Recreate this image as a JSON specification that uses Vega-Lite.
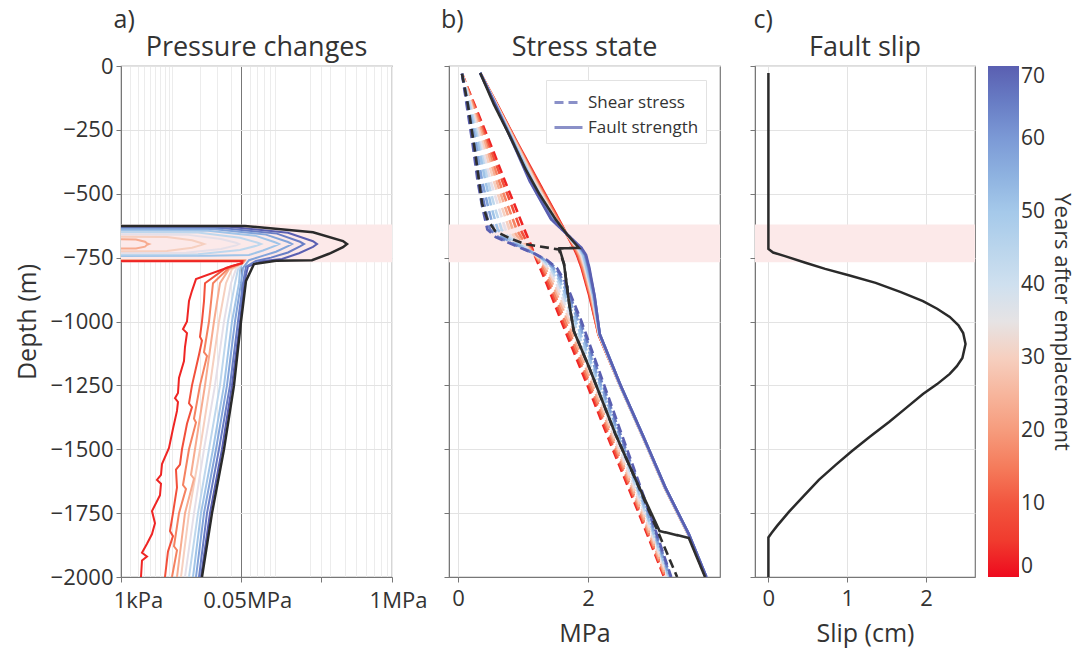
{
"$schema": "https://vega.github.io/schema/vega-lite/v6.json",
"padding": {"left": 14, "top": 7, "right": 5, "bottom": 5},
"background": "white",
"config": {
  "font": "Open Sans",
  "view": {"stroke": "#777", "strokeWidth": 1.2},
  "axis": {"labelFont": "Open Sans", "labelFontSize": 22, "labelColor": "#333", "titleFont": "Open Sans", "titleFontSize": 25, "titleColor": "#333", "titleFontWeight": "normal", "domainColor": "#777", "tickColor": "#777", "gridColor": "#e3e3e3", "tickSize": 5},
  "title": {"font": "Open Sans", "fontSize": 27, "color": "#333", "fontWeight": "normal"},
  "legend": {"labelFont": "Open Sans", "labelFontSize": 21, "labelColor": "#333", "titleFont": "Open Sans", "titleFontSize": 22, "titleColor": "#333", "titleFontWeight": "normal", "gradientLength": 511, "gradientThickness": 31, "gradientStrokeWidth": 0}
},
"datasets": {
"band": [{"depth": -620, "depth2": -768}],
"pa": [
{"yr":70,"depth":-627,"p":300},{"yr":70,"depth":-629,"p":38545},{"yr":70,"depth":-653,"p":129903},{"yr":70,"depth":-686,"p":213452},{"yr":70,"depth":-697,"p":230966},{"yr":70,"depth":-708,"p":213452},{"yr":70,"depth":-733,"p":161770},{"yr":70,"depth":-755,"p":115197},{"yr":70,"depth":-764,"p":75286},{"yr":70,"depth":-785,"p":57577},{"yr":70,"depth":-850,"p":52967},{"yr":70,"depth":-1000,"p":48707},{"yr":70,"depth":-1250,"p":41100},{"yr":70,"depth":-1500,"p":33117},{"yr":70,"depth":-1750,"p":25361},{"yr":70,"depth":-2000,"p":20619},
{"yr":65,"depth":-633,"p":300},{"yr":65,"depth":-634,"p":33117},{"yr":65,"depth":-656,"p":104150},{"yr":65,"depth":-688,"p":164990},{"yr":65,"depth":-697,"p":178639},{"yr":65,"depth":-706,"p":164990},{"yr":65,"depth":-730,"p":129903},{"yr":65,"depth":-750,"p":92275},{"yr":65,"depth":-763,"p":67930},{"yr":65,"depth":-785,"p":55233},{"yr":65,"depth":-850,"p":51871},{"yr":65,"depth":-1000,"p":46690},{"yr":65,"depth":-1250,"p":39377},{"yr":65,"depth":-1500,"p":31006},{"yr":65,"depth":-1750,"p":23687},{"yr":65,"depth":-2000,"p":19673},
{"yr":58,"depth":-638,"p":300},{"yr":58,"depth":-639,"p":28372},{"yr":58,"depth":-660,"p":83370},{"yr":58,"depth":-689,"p":129903},{"yr":58,"depth":-697,"p":140700},{"yr":58,"depth":-705,"p":129903},{"yr":58,"depth":-727,"p":102091},{"yr":58,"depth":-745,"p":75286},{"yr":58,"depth":-760,"p":58780},{"yr":58,"depth":-790,"p":51871},{"yr":58,"depth":-850,"p":49741},{"yr":58,"depth":-1000,"p":43816},{"yr":58,"depth":-1250,"p":36916},{"yr":58,"depth":-1500,"p":29012},{"yr":58,"depth":-1750,"p":22109},{"yr":58,"depth":-2000,"p":18320},
{"yr":51,"depth":-644,"p":300},{"yr":51,"depth":-645,"p":24235},{"yr":51,"depth":-664,"p":66555},{"yr":51,"depth":-690,"p":100070},{"yr":51,"depth":-697,"p":108450},{"yr":51,"depth":-704,"p":100070},{"yr":51,"depth":-722,"p":78430},{"yr":51,"depth":-740,"p":58780},{"yr":51,"depth":-743,"p":24235},{"yr":51,"depth":-744,"p":300},{"yr":51,"depth":-761,"p":300},{"yr":51,"depth":-761,"p":52967},{"yr":51,"depth":-772,"p":50792},{"yr":51,"depth":-800,"p":48707},{"yr":51,"depth":-850,"p":47700},{"yr":51,"depth":-1000,"p":41100},{"yr":51,"depth":-1250,"p":34590},{"yr":51,"depth":-1500,"p":27132},{"yr":51,"depth":-1750,"p":20619},{"yr":51,"depth":-2000,"p":17045},
{"yr":44,"depth":-651,"p":300},{"yr":44,"depth":-652,"p":19212},{"yr":44,"depth":-672,"p":48707},{"yr":44,"depth":-691,"p":69370},{"yr":44,"depth":-697,"p":75286},{"yr":44,"depth":-703,"p":69370},{"yr":44,"depth":-720,"p":48707},{"yr":44,"depth":-737,"p":19212},{"yr":44,"depth":-738,"p":300},{"yr":44,"depth":-761,"p":300},{"yr":44,"depth":-761,"p":52967},{"yr":44,"depth":-772,"p":50792},{"yr":44,"depth":-795,"p":46690},{"yr":44,"depth":-850,"p":43816},{"yr":44,"depth":-1000,"p":37719},{"yr":44,"depth":-1250,"p":31693},{"yr":44,"depth":-1500,"p":24790},{"yr":44,"depth":-1750,"p":19212},{"yr":44,"depth":-2000,"p":15455},
{"yr":37,"depth":-659,"p":300},{"yr":37,"depth":-660,"p":14339},{"yr":37,"depth":-677,"p":32398},{"yr":37,"depth":-692,"p":44754},{"yr":37,"depth":-697,"p":47687},{"yr":37,"depth":-702,"p":44754},{"yr":37,"depth":-716,"p":32398},{"yr":37,"depth":-731,"p":14339},{"yr":37,"depth":-732,"p":300},{"yr":37,"depth":-760,"p":300},{"yr":37,"depth":-760,"p":52967},{"yr":37,"depth":-772,"p":50792},{"yr":37,"depth":-795,"p":44754},{"yr":37,"depth":-850,"p":40232},{"yr":37,"depth":-1000,"p":34590},{"yr":37,"depth":-1250,"p":28372},{"yr":37,"depth":-1500,"p":22109},{"yr":37,"depth":-1750,"p":17461},{"yr":37,"depth":-2000,"p":13984},
{"yr":30,"depth":-668,"p":300},{"yr":30,"depth":-669,"p":8604},{"yr":30,"depth":-682,"p":16635},{"yr":30,"depth":-693,"p":20619},{"yr":30,"depth":-697,"p":22109},{"yr":30,"depth":-701,"p":20619},{"yr":30,"depth":-711,"p":16635},{"yr":30,"depth":-724,"p":8604},{"yr":30,"depth":-725,"p":300},{"yr":30,"depth":-760,"p":300},{"yr":30,"depth":-760,"p":52967},{"yr":30,"depth":-772,"p":50792},{"yr":30,"depth":-795,"p":41100},{"yr":30,"depth":-850,"p":36123},{"yr":30,"depth":-1000,"p":31006},{"yr":30,"depth":-1250,"p":25361},{"yr":30,"depth":-1500,"p":20140},{"yr":30,"depth":-1750,"p":15455},{"yr":30,"depth":-2000,"p":12621},
{"yr":23,"depth":-678,"p":300},{"yr":23,"depth":-679,"p":2783},{"yr":23,"depth":-688,"p":4131},{"yr":23,"depth":-694,"p":4464},{"yr":23,"depth":-697,"p":4808},{"yr":23,"depth":-700,"p":4464},{"yr":23,"depth":-707,"p":4131},{"yr":23,"depth":-714,"p":2783},{"yr":23,"depth":-715,"p":300},{"yr":23,"depth":-761,"p":300},{"yr":23,"depth":-761,"p":54090},{"yr":23,"depth":-772,"p":51871},{"yr":23,"depth":-795,"p":38545},{"yr":23,"depth":-850,"p":31693},{"yr":23,"depth":-1000,"p":27747},{"yr":23,"depth":-1250,"p":22624},{"yr":23,"depth":-1500,"p":17887},{"yr":23,"depth":-1600,"p":16235},{"yr":23,"depth":-1615,"p":17461},{"yr":23,"depth":-1750,"p":13984},{"yr":23,"depth":-2000,"p":11360},
{"yr":16,"depth":-700,"p":300},{"yr":16,"depth":-762,"p":300},{"yr":16,"depth":-762,"p":52967},{"yr":16,"depth":-772,"p":50792},{"yr":16,"depth":-790,"p":38545},{"yr":16,"depth":-850,"p":27132},{"yr":16,"depth":-1000,"p":24790},{"yr":16,"depth":-1120,"p":22109},{"yr":16,"depth":-1135,"p":23687},{"yr":16,"depth":-1250,"p":20140},{"yr":16,"depth":-1380,"p":17461},{"yr":16,"depth":-1395,"p":18320},{"yr":16,"depth":-1500,"p":15455},{"yr":16,"depth":-1640,"p":13289},{"yr":16,"depth":-1655,"p":14339},{"yr":16,"depth":-1750,"p":11980},{"yr":16,"depth":-1880,"p":10477},{"yr":16,"depth":-1895,"p":11360},{"yr":16,"depth":-2000,"p":9917},
{"yr":9,"depth":-700,"p":300},{"yr":9,"depth":-763,"p":300},{"yr":9,"depth":-763,"p":51871},{"yr":9,"depth":-772,"p":50792},{"yr":9,"depth":-790,"p":36123},{"yr":9,"depth":-850,"p":22624},{"yr":9,"depth":-920,"p":22109},{"yr":9,"depth":-1000,"p":21104},{"yr":9,"depth":-1060,"p":20140},{"yr":9,"depth":-1075,"p":21104},{"yr":9,"depth":-1130,"p":19673},{"yr":9,"depth":-1250,"p":16635},{"yr":9,"depth":-1320,"p":15455},{"yr":9,"depth":-1335,"p":16635},{"yr":9,"depth":-1400,"p":14705},{"yr":9,"depth":-1500,"p":12951},{"yr":9,"depth":-1560,"p":12296},{"yr":9,"depth":-1580,"p":11060},{"yr":9,"depth":-1650,"p":11360},{"yr":9,"depth":-1750,"p":10194},{"yr":9,"depth":-1820,"p":9378},{"yr":9,"depth":-1840,"p":10194},{"yr":9,"depth":-1900,"p":8858},{"yr":9,"depth":-2000,"p":8115},
{"yr":2,"depth":-700,"p":300},{"yr":2,"depth":-764,"p":300},{"yr":2,"depth":-764,"p":50792},{"yr":2,"depth":-772,"p":50792},{"yr":2,"depth":-783,"p":41100},{"yr":2,"depth":-834,"p":18320},{"yr":2,"depth":-880,"p":16635},{"yr":2,"depth":-920,"p":15455},{"yr":2,"depth":-1000,"p":14705},{"yr":2,"depth":-1030,"p":13289},{"yr":2,"depth":-1045,"p":14705},{"yr":2,"depth":-1100,"p":13984},{"yr":2,"depth":-1155,"p":13632},{"yr":2,"depth":-1221,"p":11980},{"yr":2,"depth":-1280,"p":11667},{"yr":2,"depth":-1300,"p":10766},{"yr":2,"depth":-1315,"p":11667},{"yr":2,"depth":-1350,"p":11360},{"yr":2,"depth":-1420,"p":10194},{"yr":2,"depth":-1495,"p":9114},{"yr":2,"depth":-1558,"p":7415},{"yr":2,"depth":-1600,"p":7190},{"yr":2,"depth":-1620,"p":6334},{"yr":2,"depth":-1635,"p":7190},{"yr":2,"depth":-1680,"p":6971},{"yr":2,"depth":-1742,"p":5354},{"yr":2,"depth":-1790,"p":5931},{"yr":2,"depth":-1832,"p":5354},{"yr":2,"depth":-1870,"p":4464},{"yr":2,"depth":-1905,"p":3655},{"yr":2,"depth":-1920,"p":4464},{"yr":2,"depth":-1935,"p":3655},{"yr":2,"depth":-2000,"p":3503}
],
"pab": [
{"depth":-626,"p":300},{"depth":-626,"p":54090},{"depth":-651,"p":213452},{"depth":-685,"p":384807},{"depth":-697,"p":416070},{"depth":-709,"p":384807},{"depth":-735,"p":292400},{"depth":-760,"p":209272},{"depth":-762,"p":102091},{"depth":-775,"p":65199},{"depth":-841,"p":55233},{"depth":-1000,"p":49741},{"depth":-1250,"p":42892},{"depth":-1500,"p":34590},{"depth":-1750,"p":26531},{"depth":-2000,"p":21104}
],
"st": [
{"yr":2,"kind":"Shear stress","depth":-30,"v":0.06},{"yr":2,"kind":"Shear stress","depth":-150,"v":0.25},{"yr":2,"kind":"Shear stress","depth":-300,"v":0.49},{"yr":2,"kind":"Shear stress","depth":-450,"v":0.72},{"yr":2,"kind":"Shear stress","depth":-550,"v":0.88},{"yr":2,"kind":"Shear stress","depth":-640,"v":1.02},{"yr":2,"kind":"Shear stress","depth":-670,"v":1.07},{"yr":2,"kind":"Shear stress","depth":-700,"v":1.12},{"yr":2,"kind":"Shear stress","depth":-735,"v":1.17},{"yr":2,"kind":"Shear stress","depth":-760,"v":1.21},{"yr":2,"kind":"Shear stress","depth":-790,"v":1.26},{"yr":2,"kind":"Shear stress","depth":-850,"v":1.36},{"yr":2,"kind":"Shear stress","depth":-1000,"v":1.59},{"yr":2,"kind":"Shear stress","depth":-1250,"v":1.99},{"yr":2,"kind":"Shear stress","depth":-1500,"v":2.38},{"yr":2,"kind":"Shear stress","depth":-1750,"v":2.78},{"yr":2,"kind":"Shear stress","depth":-2000,"v":3.17},
{"yr":9,"kind":"Shear stress","depth":-30,"v":0.06},{"yr":9,"kind":"Shear stress","depth":-150,"v":0.24},{"yr":9,"kind":"Shear stress","depth":-300,"v":0.46},{"yr":9,"kind":"Shear stress","depth":-450,"v":0.68},{"yr":9,"kind":"Shear stress","depth":-550,"v":0.83},{"yr":9,"kind":"Shear stress","depth":-640,"v":0.96},{"yr":9,"kind":"Shear stress","depth":-670,"v":1.02},{"yr":9,"kind":"Shear stress","depth":-700,"v":1.09},{"yr":9,"kind":"Shear stress","depth":-735,"v":1.17},{"yr":9,"kind":"Shear stress","depth":-760,"v":1.23},{"yr":9,"kind":"Shear stress","depth":-790,"v":1.29},{"yr":9,"kind":"Shear stress","depth":-850,"v":1.39},{"yr":9,"kind":"Shear stress","depth":-1000,"v":1.62},{"yr":9,"kind":"Shear stress","depth":-1250,"v":2.02},{"yr":9,"kind":"Shear stress","depth":-1500,"v":2.40},{"yr":9,"kind":"Shear stress","depth":-1750,"v":2.80},{"yr":9,"kind":"Shear stress","depth":-2000,"v":3.18},
{"yr":16,"kind":"Shear stress","depth":-30,"v":0.06},{"yr":16,"kind":"Shear stress","depth":-150,"v":0.23},{"yr":16,"kind":"Shear stress","depth":-300,"v":0.43},{"yr":16,"kind":"Shear stress","depth":-450,"v":0.63},{"yr":16,"kind":"Shear stress","depth":-550,"v":0.77},{"yr":16,"kind":"Shear stress","depth":-640,"v":0.90},{"yr":16,"kind":"Shear stress","depth":-670,"v":0.97},{"yr":16,"kind":"Shear stress","depth":-700,"v":1.06},{"yr":16,"kind":"Shear stress","depth":-735,"v":1.17},{"yr":16,"kind":"Shear stress","depth":-760,"v":1.24},{"yr":16,"kind":"Shear stress","depth":-790,"v":1.31},{"yr":16,"kind":"Shear stress","depth":-850,"v":1.42},{"yr":16,"kind":"Shear stress","depth":-1000,"v":1.65},{"yr":16,"kind":"Shear stress","depth":-1250,"v":2.04},{"yr":16,"kind":"Shear stress","depth":-1500,"v":2.43},{"yr":16,"kind":"Shear stress","depth":-1750,"v":2.81},{"yr":16,"kind":"Shear stress","depth":-2000,"v":3.19},
{"yr":23,"kind":"Shear stress","depth":-30,"v":0.06},{"yr":23,"kind":"Shear stress","depth":-150,"v":0.21},{"yr":23,"kind":"Shear stress","depth":-300,"v":0.41},{"yr":23,"kind":"Shear stress","depth":-450,"v":0.59},{"yr":23,"kind":"Shear stress","depth":-550,"v":0.72},{"yr":23,"kind":"Shear stress","depth":-640,"v":0.84},{"yr":23,"kind":"Shear stress","depth":-670,"v":0.92},{"yr":23,"kind":"Shear stress","depth":-700,"v":1.04},{"yr":23,"kind":"Shear stress","depth":-735,"v":1.17},{"yr":23,"kind":"Shear stress","depth":-760,"v":1.26},{"yr":23,"kind":"Shear stress","depth":-790,"v":1.34},{"yr":23,"kind":"Shear stress","depth":-850,"v":1.45},{"yr":23,"kind":"Shear stress","depth":-1000,"v":1.69},{"yr":23,"kind":"Shear stress","depth":-1250,"v":2.07},{"yr":23,"kind":"Shear stress","depth":-1500,"v":2.45},{"yr":23,"kind":"Shear stress","depth":-1750,"v":2.83},{"yr":23,"kind":"Shear stress","depth":-2000,"v":3.20},
{"yr":30,"kind":"Shear stress","depth":-30,"v":0.06},{"yr":30,"kind":"Shear stress","depth":-150,"v":0.20},{"yr":30,"kind":"Shear stress","depth":-300,"v":0.38},{"yr":30,"kind":"Shear stress","depth":-450,"v":0.55},{"yr":30,"kind":"Shear stress","depth":-550,"v":0.67},{"yr":30,"kind":"Shear stress","depth":-640,"v":0.79},{"yr":30,"kind":"Shear stress","depth":-670,"v":0.87},{"yr":30,"kind":"Shear stress","depth":-700,"v":1.01},{"yr":30,"kind":"Shear stress","depth":-735,"v":1.17},{"yr":30,"kind":"Shear stress","depth":-760,"v":1.28},{"yr":30,"kind":"Shear stress","depth":-790,"v":1.37},{"yr":30,"kind":"Shear stress","depth":-850,"v":1.48},{"yr":30,"kind":"Shear stress","depth":-1000,"v":1.72},{"yr":30,"kind":"Shear stress","depth":-1250,"v":2.10},{"yr":30,"kind":"Shear stress","depth":-1500,"v":2.47},{"yr":30,"kind":"Shear stress","depth":-1750,"v":2.85},{"yr":30,"kind":"Shear stress","depth":-2000,"v":3.22},
{"yr":37,"kind":"Shear stress","depth":-30,"v":0.06},{"yr":37,"kind":"Shear stress","depth":-150,"v":0.19},{"yr":37,"kind":"Shear stress","depth":-300,"v":0.35},{"yr":37,"kind":"Shear stress","depth":-450,"v":0.50},{"yr":37,"kind":"Shear stress","depth":-550,"v":0.62},{"yr":37,"kind":"Shear stress","depth":-640,"v":0.73},{"yr":37,"kind":"Shear stress","depth":-670,"v":0.82},{"yr":37,"kind":"Shear stress","depth":-700,"v":0.98},{"yr":37,"kind":"Shear stress","depth":-735,"v":1.18},{"yr":37,"kind":"Shear stress","depth":-760,"v":1.29},{"yr":37,"kind":"Shear stress","depth":-790,"v":1.39},{"yr":37,"kind":"Shear stress","depth":-850,"v":1.51},{"yr":37,"kind":"Shear stress","depth":-1000,"v":1.75},{"yr":37,"kind":"Shear stress","depth":-1250,"v":2.12},{"yr":37,"kind":"Shear stress","depth":-1500,"v":2.49},{"yr":37,"kind":"Shear stress","depth":-1750,"v":2.87},{"yr":37,"kind":"Shear stress","depth":-2000,"v":3.23},
{"yr":44,"kind":"Shear stress","depth":-30,"v":0.06},{"yr":44,"kind":"Shear stress","depth":-150,"v":0.18},{"yr":44,"kind":"Shear stress","depth":-300,"v":0.32},{"yr":44,"kind":"Shear stress","depth":-450,"v":0.46},{"yr":44,"kind":"Shear stress","depth":-550,"v":0.56},{"yr":44,"kind":"Shear stress","depth":-640,"v":0.67},{"yr":44,"kind":"Shear stress","depth":-670,"v":0.77},{"yr":44,"kind":"Shear stress","depth":-700,"v":0.95},{"yr":44,"kind":"Shear stress","depth":-735,"v":1.18},{"yr":44,"kind":"Shear stress","depth":-760,"v":1.31},{"yr":44,"kind":"Shear stress","depth":-790,"v":1.42},{"yr":44,"kind":"Shear stress","depth":-850,"v":1.55},{"yr":44,"kind":"Shear stress","depth":-1000,"v":1.78},{"yr":44,"kind":"Shear stress","depth":-1250,"v":2.15},{"yr":44,"kind":"Shear stress","depth":-1500,"v":2.52},{"yr":44,"kind":"Shear stress","depth":-1750,"v":2.89},{"yr":44,"kind":"Shear stress","depth":-2000,"v":3.24},
{"yr":51,"kind":"Shear stress","depth":-30,"v":0.06},{"yr":51,"kind":"Shear stress","depth":-150,"v":0.16},{"yr":51,"kind":"Shear stress","depth":-300,"v":0.30},{"yr":51,"kind":"Shear stress","depth":-450,"v":0.42},{"yr":51,"kind":"Shear stress","depth":-550,"v":0.51},{"yr":51,"kind":"Shear stress","depth":-640,"v":0.61},{"yr":51,"kind":"Shear stress","depth":-670,"v":0.72},{"yr":51,"kind":"Shear stress","depth":-700,"v":0.93},{"yr":51,"kind":"Shear stress","depth":-735,"v":1.18},{"yr":51,"kind":"Shear stress","depth":-760,"v":1.33},{"yr":51,"kind":"Shear stress","depth":-790,"v":1.45},{"yr":51,"kind":"Shear stress","depth":-850,"v":1.58},{"yr":51,"kind":"Shear stress","depth":-1000,"v":1.81},{"yr":51,"kind":"Shear stress","depth":-1250,"v":2.18},{"yr":51,"kind":"Shear stress","depth":-1500,"v":2.54},{"yr":51,"kind":"Shear stress","depth":-1750,"v":2.90},{"yr":51,"kind":"Shear stress","depth":-2000,"v":3.25},
{"yr":58,"kind":"Shear stress","depth":-30,"v":0.06},{"yr":58,"kind":"Shear stress","depth":-150,"v":0.15},{"yr":58,"kind":"Shear stress","depth":-300,"v":0.27},{"yr":58,"kind":"Shear stress","depth":-450,"v":0.37},{"yr":58,"kind":"Shear stress","depth":-550,"v":0.46},{"yr":58,"kind":"Shear stress","depth":-640,"v":0.55},{"yr":58,"kind":"Shear stress","depth":-670,"v":0.67},{"yr":58,"kind":"Shear stress","depth":-700,"v":0.90},{"yr":58,"kind":"Shear stress","depth":-735,"v":1.18},{"yr":58,"kind":"Shear stress","depth":-760,"v":1.34},{"yr":58,"kind":"Shear stress","depth":-790,"v":1.47},{"yr":58,"kind":"Shear stress","depth":-850,"v":1.61},{"yr":58,"kind":"Shear stress","depth":-1000,"v":1.85},{"yr":58,"kind":"Shear stress","depth":-1250,"v":2.20},{"yr":58,"kind":"Shear stress","depth":-1500,"v":2.56},{"yr":58,"kind":"Shear stress","depth":-1750,"v":2.92},{"yr":58,"kind":"Shear stress","depth":-2000,"v":3.26},
{"yr":65,"kind":"Shear stress","depth":-30,"v":0.06},{"yr":65,"kind":"Shear stress","depth":-150,"v":0.14},{"yr":65,"kind":"Shear stress","depth":-300,"v":0.24},{"yr":65,"kind":"Shear stress","depth":-450,"v":0.33},{"yr":65,"kind":"Shear stress","depth":-550,"v":0.41},{"yr":65,"kind":"Shear stress","depth":-640,"v":0.49},{"yr":65,"kind":"Shear stress","depth":-670,"v":0.62},{"yr":65,"kind":"Shear stress","depth":-700,"v":0.87},{"yr":65,"kind":"Shear stress","depth":-735,"v":1.18},{"yr":65,"kind":"Shear stress","depth":-760,"v":1.36},{"yr":65,"kind":"Shear stress","depth":-790,"v":1.50},{"yr":65,"kind":"Shear stress","depth":-850,"v":1.64},{"yr":65,"kind":"Shear stress","depth":-1000,"v":1.88},{"yr":65,"kind":"Shear stress","depth":-1250,"v":2.23},{"yr":65,"kind":"Shear stress","depth":-1500,"v":2.58},{"yr":65,"kind":"Shear stress","depth":-1750,"v":2.94},{"yr":65,"kind":"Shear stress","depth":-2000,"v":3.27},
{"yr":70,"kind":"Shear stress","depth":-30,"v":0.06},{"yr":70,"kind":"Shear stress","depth":-150,"v":0.13},{"yr":70,"kind":"Shear stress","depth":-300,"v":0.22},{"yr":70,"kind":"Shear stress","depth":-450,"v":0.30},{"yr":70,"kind":"Shear stress","depth":-550,"v":0.37},{"yr":70,"kind":"Shear stress","depth":-640,"v":0.45},{"yr":70,"kind":"Shear stress","depth":-670,"v":0.58},{"yr":70,"kind":"Shear stress","depth":-700,"v":0.85},{"yr":70,"kind":"Shear stress","depth":-735,"v":1.18},{"yr":70,"kind":"Shear stress","depth":-760,"v":1.37},{"yr":70,"kind":"Shear stress","depth":-790,"v":1.52},{"yr":70,"kind":"Shear stress","depth":-850,"v":1.66},{"yr":70,"kind":"Shear stress","depth":-1000,"v":1.90},{"yr":70,"kind":"Shear stress","depth":-1250,"v":2.25},{"yr":70,"kind":"Shear stress","depth":-1500,"v":2.60},{"yr":70,"kind":"Shear stress","depth":-1750,"v":2.95},{"yr":70,"kind":"Shear stress","depth":-2000,"v":3.28},
{"yr":2,"kind":"Fault strength","depth":-27,"v":0.34},{"yr":2,"kind":"Fault strength","depth":-150,"v":0.60},{"yr":2,"kind":"Fault strength","depth":-300,"v":0.91},{"yr":2,"kind":"Fault strength","depth":-450,"v":1.23},{"yr":2,"kind":"Fault strength","depth":-600,"v":1.55},{"yr":2,"kind":"Fault strength","depth":-712,"v":1.78},{"yr":2,"kind":"Fault strength","depth":-740,"v":1.83},{"yr":2,"kind":"Fault strength","depth":-790,"v":1.90},{"yr":2,"kind":"Fault strength","depth":-900,"v":2.02},{"yr":2,"kind":"Fault strength","depth":-1050,"v":2.16},{"yr":2,"kind":"Fault strength","depth":-1250,"v":2.49},{"yr":2,"kind":"Fault strength","depth":-1450,"v":2.84},{"yr":2,"kind":"Fault strength","depth":-1650,"v":3.18},{"yr":2,"kind":"Fault strength","depth":-1832,"v":3.54},{"yr":2,"kind":"Fault strength","depth":-2000,"v":3.81},
{"yr":9,"kind":"Fault strength","depth":-27,"v":0.34},{"yr":9,"kind":"Fault strength","depth":-150,"v":0.60},{"yr":9,"kind":"Fault strength","depth":-300,"v":0.90},{"yr":9,"kind":"Fault strength","depth":-450,"v":1.22},{"yr":9,"kind":"Fault strength","depth":-600,"v":1.54},{"yr":9,"kind":"Fault strength","depth":-712,"v":1.79},{"yr":9,"kind":"Fault strength","depth":-740,"v":1.84},{"yr":9,"kind":"Fault strength","depth":-790,"v":1.91},{"yr":9,"kind":"Fault strength","depth":-900,"v":2.03},{"yr":9,"kind":"Fault strength","depth":-1050,"v":2.16},{"yr":9,"kind":"Fault strength","depth":-1250,"v":2.49},{"yr":9,"kind":"Fault strength","depth":-1450,"v":2.84},{"yr":9,"kind":"Fault strength","depth":-1650,"v":3.18},{"yr":9,"kind":"Fault strength","depth":-1832,"v":3.54},{"yr":9,"kind":"Fault strength","depth":-2000,"v":3.81},
{"yr":16,"kind":"Fault strength","depth":-27,"v":0.34},{"yr":16,"kind":"Fault strength","depth":-150,"v":0.59},{"yr":16,"kind":"Fault strength","depth":-300,"v":0.90},{"yr":16,"kind":"Fault strength","depth":-450,"v":1.20},{"yr":16,"kind":"Fault strength","depth":-600,"v":1.53},{"yr":16,"kind":"Fault strength","depth":-712,"v":1.80},{"yr":16,"kind":"Fault strength","depth":-740,"v":1.86},{"yr":16,"kind":"Fault strength","depth":-790,"v":1.92},{"yr":16,"kind":"Fault strength","depth":-900,"v":2.04},{"yr":16,"kind":"Fault strength","depth":-1050,"v":2.16},{"yr":16,"kind":"Fault strength","depth":-1250,"v":2.49},{"yr":16,"kind":"Fault strength","depth":-1450,"v":2.84},{"yr":16,"kind":"Fault strength","depth":-1650,"v":3.18},{"yr":16,"kind":"Fault strength","depth":-1832,"v":3.54},{"yr":16,"kind":"Fault strength","depth":-2000,"v":3.81},
{"yr":23,"kind":"Fault strength","depth":-27,"v":0.34},{"yr":23,"kind":"Fault strength","depth":-150,"v":0.59},{"yr":23,"kind":"Fault strength","depth":-300,"v":0.89},{"yr":23,"kind":"Fault strength","depth":-450,"v":1.19},{"yr":23,"kind":"Fault strength","depth":-600,"v":1.51},{"yr":23,"kind":"Fault strength","depth":-712,"v":1.82},{"yr":23,"kind":"Fault strength","depth":-740,"v":1.87},{"yr":23,"kind":"Fault strength","depth":-790,"v":1.94},{"yr":23,"kind":"Fault strength","depth":-900,"v":2.05},{"yr":23,"kind":"Fault strength","depth":-1050,"v":2.17},{"yr":23,"kind":"Fault strength","depth":-1250,"v":2.49},{"yr":23,"kind":"Fault strength","depth":-1450,"v":2.84},{"yr":23,"kind":"Fault strength","depth":-1650,"v":3.18},{"yr":23,"kind":"Fault strength","depth":-1832,"v":3.54},{"yr":23,"kind":"Fault strength","depth":-2000,"v":3.81},
{"yr":30,"kind":"Fault strength","depth":-27,"v":0.34},{"yr":30,"kind":"Fault strength","depth":-150,"v":0.59},{"yr":30,"kind":"Fault strength","depth":-300,"v":0.88},{"yr":30,"kind":"Fault strength","depth":-450,"v":1.18},{"yr":30,"kind":"Fault strength","depth":-600,"v":1.50},{"yr":30,"kind":"Fault strength","depth":-712,"v":1.83},{"yr":30,"kind":"Fault strength","depth":-740,"v":1.89},{"yr":30,"kind":"Fault strength","depth":-790,"v":1.95},{"yr":30,"kind":"Fault strength","depth":-900,"v":2.06},{"yr":30,"kind":"Fault strength","depth":-1050,"v":2.17},{"yr":30,"kind":"Fault strength","depth":-1250,"v":2.49},{"yr":30,"kind":"Fault strength","depth":-1450,"v":2.84},{"yr":30,"kind":"Fault strength","depth":-1650,"v":3.18},{"yr":30,"kind":"Fault strength","depth":-1832,"v":3.54},{"yr":30,"kind":"Fault strength","depth":-2000,"v":3.81},
{"yr":37,"kind":"Fault strength","depth":-27,"v":0.34},{"yr":37,"kind":"Fault strength","depth":-150,"v":0.58},{"yr":37,"kind":"Fault strength","depth":-300,"v":0.87},{"yr":37,"kind":"Fault strength","depth":-450,"v":1.16},{"yr":37,"kind":"Fault strength","depth":-600,"v":1.49},{"yr":37,"kind":"Fault strength","depth":-712,"v":1.84},{"yr":37,"kind":"Fault strength","depth":-740,"v":1.90},{"yr":37,"kind":"Fault strength","depth":-790,"v":1.96},{"yr":37,"kind":"Fault strength","depth":-900,"v":2.07},{"yr":37,"kind":"Fault strength","depth":-1050,"v":2.17},{"yr":37,"kind":"Fault strength","depth":-1250,"v":2.49},{"yr":37,"kind":"Fault strength","depth":-1450,"v":2.84},{"yr":37,"kind":"Fault strength","depth":-1650,"v":3.18},{"yr":37,"kind":"Fault strength","depth":-1832,"v":3.54},{"yr":37,"kind":"Fault strength","depth":-2000,"v":3.81},
{"yr":44,"kind":"Fault strength","depth":-27,"v":0.34},{"yr":44,"kind":"Fault strength","depth":-150,"v":0.58},{"yr":44,"kind":"Fault strength","depth":-300,"v":0.87},{"yr":44,"kind":"Fault strength","depth":-450,"v":1.15},{"yr":44,"kind":"Fault strength","depth":-600,"v":1.48},{"yr":44,"kind":"Fault strength","depth":-712,"v":1.85},{"yr":44,"kind":"Fault strength","depth":-740,"v":1.92},{"yr":44,"kind":"Fault strength","depth":-790,"v":1.97},{"yr":44,"kind":"Fault strength","depth":-900,"v":2.08},{"yr":44,"kind":"Fault strength","depth":-1050,"v":2.17},{"yr":44,"kind":"Fault strength","depth":-1250,"v":2.49},{"yr":44,"kind":"Fault strength","depth":-1450,"v":2.84},{"yr":44,"kind":"Fault strength","depth":-1650,"v":3.18},{"yr":44,"kind":"Fault strength","depth":-1832,"v":3.54},{"yr":44,"kind":"Fault strength","depth":-2000,"v":3.81},
{"yr":51,"kind":"Fault strength","depth":-27,"v":0.34},{"yr":51,"kind":"Fault strength","depth":-150,"v":0.58},{"yr":51,"kind":"Fault strength","depth":-300,"v":0.86},{"yr":51,"kind":"Fault strength","depth":-450,"v":1.14},{"yr":51,"kind":"Fault strength","depth":-600,"v":1.46},{"yr":51,"kind":"Fault strength","depth":-712,"v":1.87},{"yr":51,"kind":"Fault strength","depth":-740,"v":1.93},{"yr":51,"kind":"Fault strength","depth":-790,"v":1.98},{"yr":51,"kind":"Fault strength","depth":-900,"v":2.08},{"yr":51,"kind":"Fault strength","depth":-1050,"v":2.18},{"yr":51,"kind":"Fault strength","depth":-1250,"v":2.50},{"yr":51,"kind":"Fault strength","depth":-1450,"v":2.85},{"yr":51,"kind":"Fault strength","depth":-1650,"v":3.19},{"yr":51,"kind":"Fault strength","depth":-1832,"v":3.55},{"yr":51,"kind":"Fault strength","depth":-2000,"v":3.82},
{"yr":58,"kind":"Fault strength","depth":-27,"v":0.34},{"yr":58,"kind":"Fault strength","depth":-150,"v":0.57},{"yr":58,"kind":"Fault strength","depth":-300,"v":0.85},{"yr":58,"kind":"Fault strength","depth":-450,"v":1.12},{"yr":58,"kind":"Fault strength","depth":-600,"v":1.45},{"yr":58,"kind":"Fault strength","depth":-712,"v":1.88},{"yr":58,"kind":"Fault strength","depth":-740,"v":1.95},{"yr":58,"kind":"Fault strength","depth":-790,"v":2.00},{"yr":58,"kind":"Fault strength","depth":-900,"v":2.09},{"yr":58,"kind":"Fault strength","depth":-1050,"v":2.18},{"yr":58,"kind":"Fault strength","depth":-1250,"v":2.50},{"yr":58,"kind":"Fault strength","depth":-1450,"v":2.85},{"yr":58,"kind":"Fault strength","depth":-1650,"v":3.19},{"yr":58,"kind":"Fault strength","depth":-1832,"v":3.55},{"yr":58,"kind":"Fault strength","depth":-2000,"v":3.82},
{"yr":65,"kind":"Fault strength","depth":-27,"v":0.34},{"yr":65,"kind":"Fault strength","depth":-150,"v":0.57},{"yr":65,"kind":"Fault strength","depth":-300,"v":0.85},{"yr":65,"kind":"Fault strength","depth":-450,"v":1.11},{"yr":65,"kind":"Fault strength","depth":-600,"v":1.44},{"yr":65,"kind":"Fault strength","depth":-712,"v":1.89},{"yr":65,"kind":"Fault strength","depth":-740,"v":1.96},{"yr":65,"kind":"Fault strength","depth":-790,"v":2.01},{"yr":65,"kind":"Fault strength","depth":-900,"v":2.10},{"yr":65,"kind":"Fault strength","depth":-1050,"v":2.18},{"yr":65,"kind":"Fault strength","depth":-1250,"v":2.50},{"yr":65,"kind":"Fault strength","depth":-1450,"v":2.85},{"yr":65,"kind":"Fault strength","depth":-1650,"v":3.19},{"yr":65,"kind":"Fault strength","depth":-1832,"v":3.55},{"yr":65,"kind":"Fault strength","depth":-2000,"v":3.82},
{"yr":70,"kind":"Fault strength","depth":-27,"v":0.34},{"yr":70,"kind":"Fault strength","depth":-150,"v":0.57},{"yr":70,"kind":"Fault strength","depth":-300,"v":0.84},{"yr":70,"kind":"Fault strength","depth":-450,"v":1.10},{"yr":70,"kind":"Fault strength","depth":-600,"v":1.43},{"yr":70,"kind":"Fault strength","depth":-712,"v":1.90},{"yr":70,"kind":"Fault strength","depth":-740,"v":1.97},{"yr":70,"kind":"Fault strength","depth":-790,"v":2.02},{"yr":70,"kind":"Fault strength","depth":-900,"v":2.10},{"yr":70,"kind":"Fault strength","depth":-1050,"v":2.18},{"yr":70,"kind":"Fault strength","depth":-1250,"v":2.50},{"yr":70,"kind":"Fault strength","depth":-1450,"v":2.85},{"yr":70,"kind":"Fault strength","depth":-1650,"v":3.19},{"yr":70,"kind":"Fault strength","depth":-1832,"v":3.55},{"yr":70,"kind":"Fault strength","depth":-2000,"v":3.82}
],
"stb": [
{"kind":"Shear stress","depth":-30,"v":0.06},{"kind":"Shear stress","depth":-150,"v":0.15},{"kind":"Shear stress","depth":-333,"v":0.26},{"kind":"Shear stress","depth":-540,"v":0.37},{"kind":"Shear stress","depth":-600,"v":0.45},{"kind":"Shear stress","depth":-646,"v":0.57},{"kind":"Shear stress","depth":-675,"v":0.80},{"kind":"Shear stress","depth":-697,"v":1.03},{"kind":"Shear stress","depth":-712,"v":1.40},{"kind":"Shear stress","depth":-718,"v":1.55},{"kind":"Shear stress","depth":-775,"v":1.63},{"kind":"Shear stress","depth":-931,"v":1.71},{"kind":"Shear stress","depth":-1037,"v":1.78},{"kind":"Shear stress","depth":-1182,"v":2.02},{"kind":"Shear stress","depth":-1440,"v":2.42},{"kind":"Shear stress","depth":-1612,"v":2.72},{"kind":"Shear stress","depth":-1832,"v":3.09},{"kind":"Shear stress","depth":-2000,"v":3.37},
{"kind":"Fault strength","depth":-27,"v":0.34},{"kind":"Fault strength","depth":-150,"v":0.55},{"kind":"Fault strength","depth":-266,"v":0.78},{"kind":"Fault strength","depth":-400,"v":1.03},{"kind":"Fault strength","depth":-501,"v":1.25},{"kind":"Fault strength","depth":-600,"v":1.50},{"kind":"Fault strength","depth":-660,"v":1.68},{"kind":"Fault strength","depth":-712,"v":1.86},{"kind":"Fault strength","depth":-714,"v":1.56},{"kind":"Fault strength","depth":-775,"v":1.63},{"kind":"Fault strength","depth":-931,"v":1.71},{"kind":"Fault strength","depth":-1037,"v":1.78},{"kind":"Fault strength","depth":-1182,"v":2.02},{"kind":"Fault strength","depth":-1440,"v":2.42},{"kind":"Fault strength","depth":-1612,"v":2.72},{"kind":"Fault strength","depth":-1820,"v":3.10},{"kind":"Fault strength","depth":-1847,"v":3.55},{"kind":"Fault strength","depth":-2000,"v":3.80}
],
"slip": [
{"depth":-27,"slip":0},{"depth":-716,"slip":0},{"depth":-730,"slip":0.06},{"depth":-744,"slip":0.21},{"depth":-770,"slip":0.47},{"depth":-794,"slip":0.72},{"depth":-820,"slip":1.03},{"depth":-849,"slip":1.36},{"depth":-885,"slip":1.68},{"depth":-920,"slip":1.96},{"depth":-950,"slip":2.14},{"depth":-982,"slip":2.30},{"depth":-1015,"slip":2.41},{"depth":-1045,"slip":2.47},{"depth":-1088,"slip":2.50},{"depth":-1143,"slip":2.46},{"depth":-1175,"slip":2.39},{"depth":-1205,"slip":2.30},{"depth":-1245,"slip":2.14},{"depth":-1284,"slip":1.96},{"depth":-1340,"slip":1.74},{"depth":-1393,"slip":1.53},{"depth":-1450,"slip":1.29},{"depth":-1507,"slip":1.06},{"depth":-1562,"slip":0.85},{"depth":-1620,"slip":0.64},{"depth":-1685,"slip":0.44},{"depth":-1745,"slip":0.26},{"depth":-1800,"slip":0.11},{"depth":-1828,"slip":0.04},{"depth":-1845,"slip":0},{"depth":-2000,"slip":0}
]
},
"spacing": 12,
"resolve": {"scale": {"strokeDash": "independent"}, "legend": {"strokeDash": "independent"}},
"hconcat": [
{
 "title": {"text": "a)", "anchor": "start", "dx": 99, "offset": 0, "fontSize": 25},
 "vconcat": [{
  "width": 271, "height": 511,
  "title": {"text": "Pressure changes", "offset": -7},
  "encoding": {"y": {"field": "depth", "type": "quantitative", "scale": {"domain": [-2000, 0], "nice": false, "zero": false}, "axis": {"values": [-2000,-1750,-1500,-1250,-1000,-750,-500,-250,0], "format": "d", "title": "Depth (m)", "grid": true, "labelPadding": 3, "titlePadding": 10}}},
  "layer": [
   {"data": {"name": "band"}, "mark": {"type": "rect", "color": "#fce9e9"}, "encoding": {"y2": {"field": "depth2"}}},
   {"data": {"name": "pa"}, "mark": {"type": "line", "clip": true, "strokeWidth": 2},
    "encoding": {
     "x": {"field": "p", "type": "quantitative", "title": null, "scale": {"type": "symlog", "constant": 4300, "domain": [1000, 1000000], "nice": false, "zero": false},
       "axis": {"values": [1000,2000,3000,4000,5000,6000,7000,8000,9000,10000,20000,30000,40000,50000,60000,70000,80000,90000,100000,200000,250000,300000,400000,500000,600000,700000,800000,900000,1000000],
        "tickCount": 200,
        "labelExpr": "abs(datum.value-1000)<1 ? '1kPa' : abs(datum.value-50000)<1 ? '0.05MPa' : abs(datum.value-1000000)<1 ? '1MPa' : ''",
        "gridColor": {"condition": {"test": "abs(datum.value-50000)<1", "value": "#777"}, "value": "#ececec"},
        "tickOpacity": {"condition": {"test": "abs(datum.value-1000)<1 || abs(datum.value-50000)<1 || abs(datum.value-250000)<1 || abs(datum.value-1000000)<1", "value": 1}, "value": 0},
        "labelOffset": {"condition": {"test": "abs(datum.value-1000)<1", "value": 17}, "value": 6},
        "labelFlush": false, "labelOverlap": false, "labelPadding": 8, "grid": true}},
     "color": {"field": "yr", "type": "quantitative", "scale": {"domain": [0,10,20,30,35,40,50,60,70], "range": ["#ee0a1e","#f2553e","#f69b7c","#f6cfbf","#e6e3e4","#cfe0ef","#a5c9ea","#7c9ad6","#5a5fb1"]},
       "legend": {"title": "Years after emplacement", "values": [0,10,20,30,40,50,60,70], "direction": "vertical", "titleOrient": "right", "titleAngle": 270, "titleAnchor": "middle", "titleLimit": 800, "offset": 12}},
     "order": {"value": null}}},
   {"data": {"name": "pab"}, "mark": {"type": "line", "clip": true, "strokeWidth": 2.5, "color": "#2a2a2a"},
    "encoding": {"x": {"field": "p", "type": "quantitative", "title": null}, "order": {"value": null}}}
  ]
 }]
},
{
 "title": {"text": "b)", "anchor": "start", "offset": 0, "fontSize": 25, "dx": -2},
 "resolve": {"scale": {"strokeDash": "independent"}, "legend": {"strokeDash": "independent"}},
 "vconcat": [{
  "width": 271, "height": 511,
  "title": {"text": "Stress state", "offset": 4},
  "encoding": {"y": {"field": "depth", "type": "quantitative", "scale": {"domain": [-2000, 0], "nice": false, "zero": false}, "axis": {"values": [-2000,-1750,-1500,-1250,-1000,-750,-500,-250,0], "title": null, "labels": false, "grid": true, "minExtent": 5, "maxExtent": 5}}},
  "layer": [
   {"data": {"name": "band"}, "mark": {"type": "rect", "color": "#fce9e9"}, "encoding": {"y2": {"field": "depth2"}}},
   {"data": {"name": "st"}, "mark": {"type": "line", "clip": true, "strokeWidth": 2.6},
    "encoding": {
     "x": {"field": "v", "type": "quantitative", "title": "MPa", "scale": {"domain": [-0.14, 4.03], "nice": false, "zero": false}, "axis": {"values": [0, 2], "format": "d", "grid": true, "labelPadding": 6, "titlePadding": 12}},
     "color": {"field": "yr", "type": "quantitative", "scale": {"domain": [0,10,20,30,35,40,50,60,70], "range": ["#ee0a1e","#f2553e","#f69b7c","#f6cfbf","#e6e3e4","#cfe0ef","#a5c9ea","#7c9ad6","#5a5fb1"]},
       "legend": {"title": "Years after emplacement", "values": [0,10,20,30,40,50,60,70], "direction": "vertical", "titleOrient": "right", "titleAngle": 270, "titleAnchor": "middle", "titleLimit": 800, "offset": 12}},
     "strokeDash": {"field": "kind", "type": "nominal", "scale": {"domain": ["Shear stress", "Fault strength"], "range": [[9, 5], [1, 0]]},
       "legend": {"title": null, "orient": "top-right", "offset": 14, "labelFontSize": 17, "symbolType": "stroke", "symbolStrokeWidth": 3, "symbolSize": 784, "padding": 7, "strokeColor": "#e2e2e2", "fillColor": "#ffffff", "rowPadding": 1, "labelColor": "#333",
        "encode": {"symbols": {"update": {"stroke": {"value": "#8a90c8"}}}}}},
     "order": {"value": null}}},
   {"data": {"name": "stb"}, "mark": {"type": "line", "clip": true, "strokeWidth": 2.6, "color": "#2e2e2e"},
    "encoding": {"x": {"field": "v", "type": "quantitative", "title": "MPa"}, "strokeDash": {"field": "kind", "type": "nominal"}, "order": {"value": null}}}
  ]
 }]
},
{
 "title": {"text": "c)", "anchor": "start", "offset": 0, "fontSize": 25, "dx": 20},
 "vconcat": [{
  "width": 220, "height": 511,
  "title": {"text": "Fault slip", "offset": 4},
  "encoding": {"y": {"field": "depth", "type": "quantitative", "scale": {"domain": [-2000, 0], "nice": false, "zero": false}, "axis": {"values": [-2000,-1750,-1500,-1250,-1000,-750,-500,-250,0], "title": null, "labels": false, "grid": true, "minExtent": 21, "maxExtent": 21}}},
  "layer": [
   {"data": {"name": "band"}, "mark": {"type": "rect", "color": "#fce9e9"}, "encoding": {"y2": {"field": "depth2"}}},
   {"data": {"name": "slip"}, "mark": {"type": "line", "clip": true, "strokeWidth": 2.5, "color": "#2a2a2a"},
    "encoding": {"x": {"field": "slip", "type": "quantitative", "title": "Slip (cm)", "scale": {"domain": [-0.17, 2.62], "nice": false, "zero": false}, "axis": {"values": [0, 1, 2], "format": "d", "grid": true, "labelPadding": 6, "titlePadding": 12}}, "order": {"value": null}}}
  ]
 }]
}
]
}
